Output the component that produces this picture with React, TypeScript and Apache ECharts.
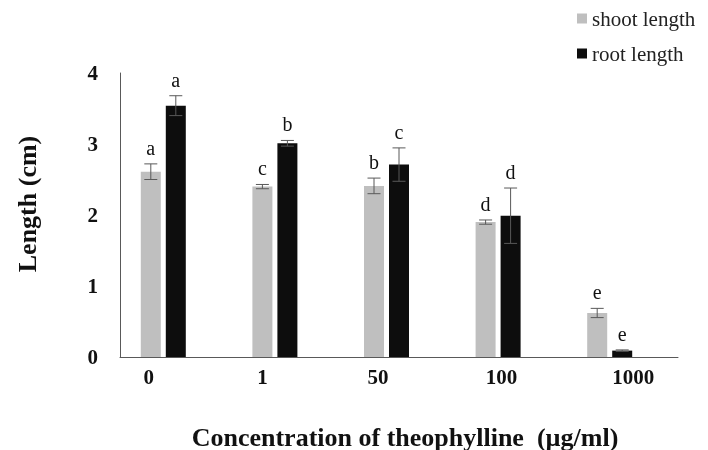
import React, { useEffect, useRef } from "react";
import * as echarts from "echarts";

const categories = ["0", "1", "50", "100", "1000"];
const shootLength = [2.61, 2.4, 2.41, 1.9, 0.62];
const shootError = [0.11, 0.03, 0.11, 0.03, 0.065];
const shootLetters = ["a", "c", "b", "d", "e"];
const rootLength = [3.54, 3.01, 2.71, 1.99, 0.09];
const rootError = [0.14, 0.04, 0.235, 0.39, 0.01];
const rootLetters = ["a", "b", "c", "d", "e"];
const yTicks = [0, 1, 2, 3, 4];

const FONT = "Liberation Serif";
const BAR_W = 20;
const BAR_GAP = 0.25;
const labelShift = [-27, -25, -21, -9, 11];

export default function App() {
  const ref = useRef<HTMLDivElement>(null);
  useEffect(() => {
    if (!ref.current) return;
    const chart = echarts.init(ref.current, undefined, { renderer: "svg" });

    const makeErr = (values: number[], errs: number[], letters: string[], idx: number) => ({
      type: "custom",
      z: 10,
      silent: true,
      data: values.map((v, i) => [i, v, errs[i]]),
      renderItem: (params: any, api: any) => {
        const ci = api.value(0);
        const v = api.value(1);
        const e = api.value(2);
        const letter = letters[params.dataIndex];
        const offset = (idx - 1) * BAR_W * (1 + BAR_GAP);
        const top = api.coord([ci, v + e]);
        const bot = api.coord([ci, Math.max(v - e, 0)]);
        const x = top[0] + offset;
        const cap = 6.5;
        const style = { stroke: "#595959", lineWidth: 1 };
        return {
          type: "group",
          children: [
            { type: "line", shape: { x1: x, y1: top[1], x2: x, y2: bot[1] }, style },
            { type: "line", shape: { x1: x - cap, y1: top[1], x2: x + cap, y2: top[1] }, style },
            { type: "line", shape: { x1: x - cap, y1: bot[1], x2: x + cap, y2: bot[1] }, style },
            {
              type: "text",
              x: x,
              y: top[1] - 6,
              style: {
                text: letter,
                fill: "#111",
                fontFamily: FONT,
                fontSize: 20,
                align: "center",
                verticalAlign: "bottom",
              },
            },
          ],
        };
      },
    });

    const rich: any = {};
    labelShift.forEach((d, i) => {
      rich["r" + i] = {
        fontFamily: FONT,
        fontWeight: "bold",
        fontSize: 21,
        color: "#111",
        padding: d < 0 ? [0, -2 * d, 0, 0] : [0, 0, 0, 2 * d],
      };
    });

    chart.setOption({
      animation: false,
      textStyle: { fontFamily: FONT },
      grid: { left: 120, right: 30, top: 73, bottom: 93, outerBoundsMode: "none" },
      legend: {
        data: ["shoot length", "root length"],
        orient: "vertical",
        left: 572,
        top: 3,
        icon: "rect",
        itemWidth: 10,
        itemHeight: 10,
        itemGap: 14,
        textStyle: { fontFamily: FONT, fontSize: 21, color: "#222" },
      },
      xAxis: {
        type: "category",
        data: categories,
        axisLine: { lineStyle: { color: "#595959", width: 1 } },
        axisTick: { show: false },
        axisLabel: {
          margin: 9,
          formatter: (val: string, i: number) => `{r${i}|${val}}`,
          rich,
        },
        name: "Concentration of theophylline  (µg/ml)",
        nameLocation: "middle",
        nameGap: 67,
        nameTextStyle: {
          fontFamily: FONT,
          fontWeight: "bold",
          fontSize: 26,
          color: "#111",
          padding: [0, 0, 0, 12],
        },
      },
      yAxis: {
        type: "value",
        min: yTicks[0],
        max: yTicks[yTicks.length - 1],
        interval: 1,
        splitLine: { show: false },
        axisLine: { show: true, lineStyle: { color: "#595959", width: 1 } },
        axisTick: { show: false },
        axisLabel: {
          margin: 22,
          fontFamily: FONT,
          fontWeight: "bold",
          fontSize: 21,
          color: "#111",
        },
        name: "Length (cm)",
        nameLocation: "middle",
        nameRotate: 90,
        nameGap: 80,
        nameTextStyle: {
          fontFamily: FONT,
          fontWeight: "bold",
          fontSize: 26,
          color: "#111",
          padding: [0, 0, 0, 22],
        },
      },
      series: [
        {
          name: "shoot length",
          type: "bar",
          data: shootLength,
          barWidth: BAR_W,
          barGap: "25%",
          itemStyle: { color: "#BFBFBF" },
        },
        {
          name: "root length",
          type: "bar",
          data: rootLength,
          barWidth: BAR_W,
          barGap: "25%",
          itemStyle: { color: "#0D0D0D" },
        },
        {
          name: "_spacer",
          type: "bar",
          data: [],
          barWidth: BAR_W,
          barGap: "25%",
        },
        makeErr(shootLength, shootError, shootLetters, 0),
        makeErr(rootLength, rootError, rootLetters, 1),
      ],
    });
    return () => chart.dispose();
  }, []);
  return (
    <div
      ref={ref}
      style={{ position: "fixed", left: 0, top: 0, width: 708, height: 450 }}
    />
  );
}
